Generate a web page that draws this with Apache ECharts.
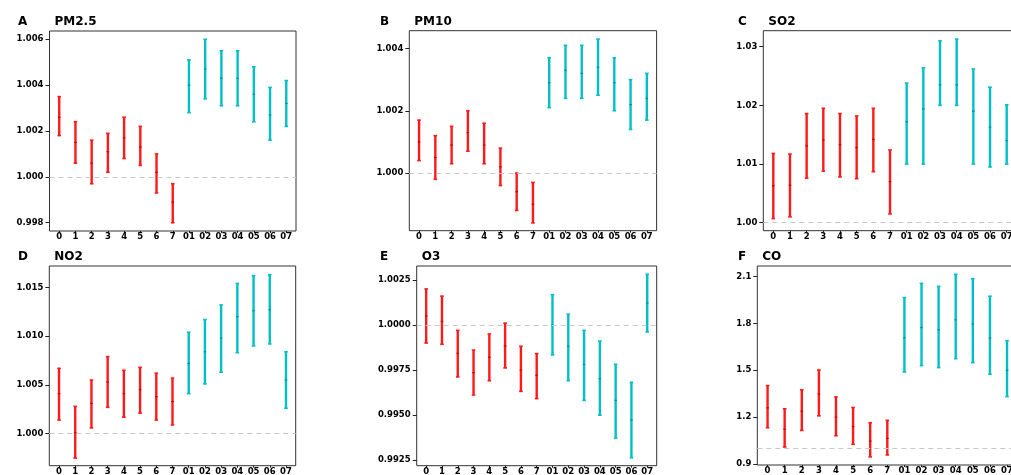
<!DOCTYPE html>
<html>
<head>
<meta charset="utf-8">
<script src="https://cdn.jsdelivr.net/npm/echarts@6/dist/echarts.min.js"></script>
<style>
  html, body { margin: 0; padding: 0; background: #fff; overflow: hidden; }
  #main { width: 1011px; height: 475px; }
</style>
</head>
<body>
<div id="main"></div>
<script>
// lag categories: single-day lags (red) then cumulative lags (cyan)
var lags = ['0', '1', '2', '3', '4', '5', '6', '7', '01', '02', '03', '04', '05', '06', '07'];

// A  PM2.5
var pm25Est = [1.0026, 1.0015, 1.0006, 1.0011, 1.0017, 1.0013, 1.0002, 0.9989, 1.0040, 1.0047, 1.0043, 1.0043, 1.0036, 1.0027, 1.0032];
var pm25Lo  = [1.0018, 1.0006, 0.9997, 1.0002, 1.0008, 1.0005, 0.9993, 0.9980, 1.0028, 1.0034, 1.0031, 1.0031, 1.0024, 1.0016, 1.0022];
var pm25Hi  = [1.0035, 1.0024, 1.0016, 1.0019, 1.0026, 1.0022, 1.0010, 0.9997, 1.0051, 1.0060, 1.0055, 1.0055, 1.0048, 1.0039, 1.0042];
// B  PM10
var pm10Est = [1.0010, 1.0005, 1.0009, 1.0013, 1.0009, 1.0002, 0.9994, 0.9990, 1.0029, 1.0033, 1.0032, 1.0034, 1.0029, 1.0022, 1.0024];
var pm10Lo  = [1.0004, 0.9998, 1.0003, 1.0007, 1.0003, 0.9996, 0.9988, 0.9984, 1.0021, 1.0024, 1.0024, 1.0025, 1.0020, 1.0014, 1.0017];
var pm10Hi  = [1.0017, 1.0012, 1.0015, 1.0020, 1.0016, 1.0008, 1.0000, 0.9997, 1.0037, 1.0041, 1.0041, 1.0043, 1.0037, 1.0030, 1.0032];
// C  SO2
var so2Est = [1.0063, 1.0064, 1.0131, 1.0141, 1.0133, 1.0128, 1.0142, 1.0070, 1.0172, 1.0194, 1.0235, 1.0235, 1.0190, 1.0163, 1.0140];
var so2Lo  = [1.0007, 1.0010, 1.0076, 1.0088, 1.0078, 1.0075, 1.0087, 1.0015, 1.0100, 1.0100, 1.0200, 1.0200, 1.0100, 1.0095, 1.0100];
var so2Hi  = [1.0118, 1.0117, 1.0186, 1.0195, 1.0186, 1.0182, 1.0195, 1.0124, 1.0238, 1.0264, 1.0310, 1.0313, 1.0262, 1.0231, 1.0201];
// D  NO2
var no2Est = [1.0041, 1.0001, 1.0031, 1.0053, 1.0041, 1.0045, 1.0038, 1.0033, 1.0072, 1.0084, 1.0098, 1.0120, 1.0126, 1.0127, 1.0055];
var no2Lo  = [1.0014, 0.9975, 1.0006, 1.0027, 1.0017, 1.0021, 1.0014, 1.0009, 1.0041, 1.0051, 1.0063, 1.0083, 1.0090, 1.0092, 1.0026];
var no2Hi  = [1.0067, 1.0028, 1.0055, 1.0079, 1.0065, 1.0068, 1.0062, 1.0057, 1.0104, 1.0117, 1.0132, 1.0154, 1.0162, 1.0163, 1.0084];
// E  O3
var o3Est = [1.0005, 1.0002, 0.99843, 0.99736, 0.99821, 0.99884, 0.99750, 0.99721, 1.0000, 0.99882, 0.99782, 0.99702, 0.99582, 0.99473, 1.00122];
var o3Lo  = [0.9990, 0.99893, 0.99712, 0.99612, 0.99691, 0.99762, 0.99632, 0.99592, 0.99834, 0.99691, 0.99582, 0.99500, 0.99373, 0.99264, 0.99961];
var o3Hi  = [1.0020, 1.0016, 0.99970, 0.99861, 0.99950, 1.00010, 0.99882, 0.99841, 1.00168, 1.00060, 0.99970, 0.99911, 0.99782, 0.99682, 1.00281];
// F  CO
var coEst = [1.260, 1.123, 1.239, 1.349, 1.201, 1.140, 1.048, 1.065, 1.708, 1.773, 1.759, 1.822, 1.795, 1.706, 1.500];
var coLo  = [1.133, 1.010, 1.116, 1.209, 1.082, 1.027, 0.947, 0.959, 1.489, 1.530, 1.517, 1.574, 1.549, 1.475, 1.332];
var coHi  = [1.402, 1.254, 1.375, 1.502, 1.330, 1.262, 1.165, 1.180, 1.964, 2.055, 2.036, 2.113, 2.085, 1.973, 1.689];

// y tick labels per panel
var pm25Ticks = [0.998, 1.000, 1.002, 1.004, 1.006];
var pm10Ticks = [1.000, 1.002, 1.004];
var so2Ticks  = [1.00, 1.01, 1.02, 1.03];
var no2Ticks  = [1.000, 1.005, 1.010, 1.015];
var o3Ticks   = [0.9925, 0.9950, 0.9975, 1.0000, 1.0025];
var coTicks   = [0.9, 1.2, 1.5, 1.8, 2.1];

var RED = '#ff1a1a';
var CYAN = '#00bfc8';
var FONT = 'DejaVu Sans';

// panel layout (px) and axis extents
var panels = [
    {tag: 'A', name: 'PM2.5', left: 49.5, top: 31, width: 246.5, height: 200, min: 0.99764, max: 1.00636, ticks: pm25Ticks, dec: 3, est: pm25Est, lo: pm25Lo, hi: pm25Hi, tagX: 13},
    {tag: 'B', name: 'PM10', left: 409.3, top: 30.7, width: 247.3, height: 200, min: 0.99815, max: 1.00457, ticks: pm10Ticks, dec: 3, est: pm10Est, lo: pm10Lo, hi: pm10Hi, tagX: 375},
    {tag: 'C', name: 'SO2', left: 763.3, top: 30.7, width: 253.4, height: 200, min: 0.99864, max: 1.03273, ticks: so2Ticks, dec: 2, est: so2Est, lo: so2Lo, hi: so2Hi, tagX: 733},
    {tag: 'D', name: 'NO2', left: 49.3, top: 266, width: 246.4, height: 199.7, min: 0.99672, max: 1.01719, ticks: no2Ticks, dec: 3, est: no2Est, lo: no2Lo, hi: no2Hi, tagX: 13},
    {tag: 'E', name: 'O3', left: 416.7, top: 266, width: 240, height: 199.7, min: 0.9922, max: 1.00327, ticks: o3Ticks, dec: 4, est: o3Est, lo: o3Lo, hi: o3Hi, tagX: 375},
    {tag: 'F', name: 'CO', left: 757.3, top: 266, width: 260, height: 199, min: 0.895, max: 2.166, ticks: coTicks, dec: 1, est: coEst, lo: coLo, hi: coHi, tagX: 733}
];

var lagIdx = lags.map(function (d, i) { return i; });

function renderErrorBar(params, api) {
    var x = api.value(0);
    var pLo = api.coord([x, api.value(1)]);
    var pMid = api.coord([x, api.value(2)]);
    var pHi = api.coord([x, api.value(3)]);
    var color = x < 8 ? RED : CYAN;
    var cap = 1.8;
    return {
        type: 'group',
        children: [
            {type: 'line', shape: {x1: pLo[0], y1: pLo[1], x2: pHi[0], y2: pHi[1]}, style: {stroke: color, lineWidth: 2.4}},
            {type: 'line', shape: {x1: pHi[0] - cap, y1: pHi[1], x2: pHi[0] + cap, y2: pHi[1]}, style: {stroke: color, lineWidth: 1.6}},
            {type: 'line', shape: {x1: pLo[0] - cap, y1: pLo[1], x2: pLo[0] + cap, y2: pLo[1]}, style: {stroke: color, lineWidth: 1.6}},
            {type: 'line', shape: {x1: pMid[0] - 1.3, y1: pMid[1], x2: pMid[0] + 1.3, y2: pMid[1]}, style: {stroke: x < 8 ? '#c80000' : '#008c94', lineWidth: 1.2}}
        ]
    };
}

var option = {
    backgroundColor: '#fff',
    animation: false,
    title: [],
    grid: [],
    xAxis: [],
    yAxis: [],
    series: []
};

panels.forEach(function (p, k) {
    var titleTop = p.top - 20;
    option.title.push({left: p.tagX, top: titleTop, text: p.tag,
        textStyle: {fontFamily: FONT, fontSize: 12, fontWeight: 'bold', color: '#000'}});
    option.title.push({left: p.left, top: titleTop, text: p.name,
        textStyle: {fontFamily: FONT, fontSize: 12, fontWeight: 'bold', color: '#000'}});

    option.grid.push({left: p.left, top: p.top, width: p.width, height: p.height,
        show: true, borderColor: '#333', borderWidth: 1, backgroundColor: '#fff',
        containLabel: false, outerBoundsMode: 'none'});

    option.xAxis.push({
        type: 'value', gridIndex: k, min: -0.6, max: 14.6,
        splitLine: {show: false},
        axisLine: {show: false, onZero: false},
        axisTick: {show: true, inside: false, length: 2, customValues: lagIdx, lineStyle: {color: '#222', width: 1}},
        axisLabel: {show: true, customValues: lagIdx, margin: 1.5,
            formatter: function (v) { return lags[Math.round(v)]; },
            fontFamily: FONT, fontSize: 8.5, fontWeight: 'bold', color: '#000'}
    });

    option.yAxis.push({
        type: 'value', gridIndex: k, min: p.min, max: p.max,
        splitLine: {show: false},
        axisLine: {show: false, onZero: false},
        axisTick: {show: true, inside: false, length: 4, customValues: p.ticks, lineStyle: {color: '#222', width: 1}},
        axisLabel: {show: true, customValues: p.ticks, margin: 6,
            formatter: (function (d) { return function (v) { return v.toFixed(d); }; })(p.dec),
            fontFamily: FONT, fontSize: 8.5, fontWeight: 'bold', color: '#000'}
    });

    option.series.push({
        type: 'custom',
        xAxisIndex: k, yAxisIndex: k,
        renderItem: renderErrorBar,
        encode: {x: 0, y: [1, 2, 3]},
        data: lagIdx.map(function (i) { return [i, p.lo[i], p.est[i], p.hi[i]]; }),
        markLine: {
            silent: true, symbol: 'none', label: {show: false},
            lineStyle: {color: '#c8c8c8', width: 1, type: [5, 4]},
            data: [{yAxis: 1}]
        },
        z: 3
    });
});

var myChart = echarts.init(document.getElementById('main'));
myChart.setOption(option);
</script>
</body>
</html>
